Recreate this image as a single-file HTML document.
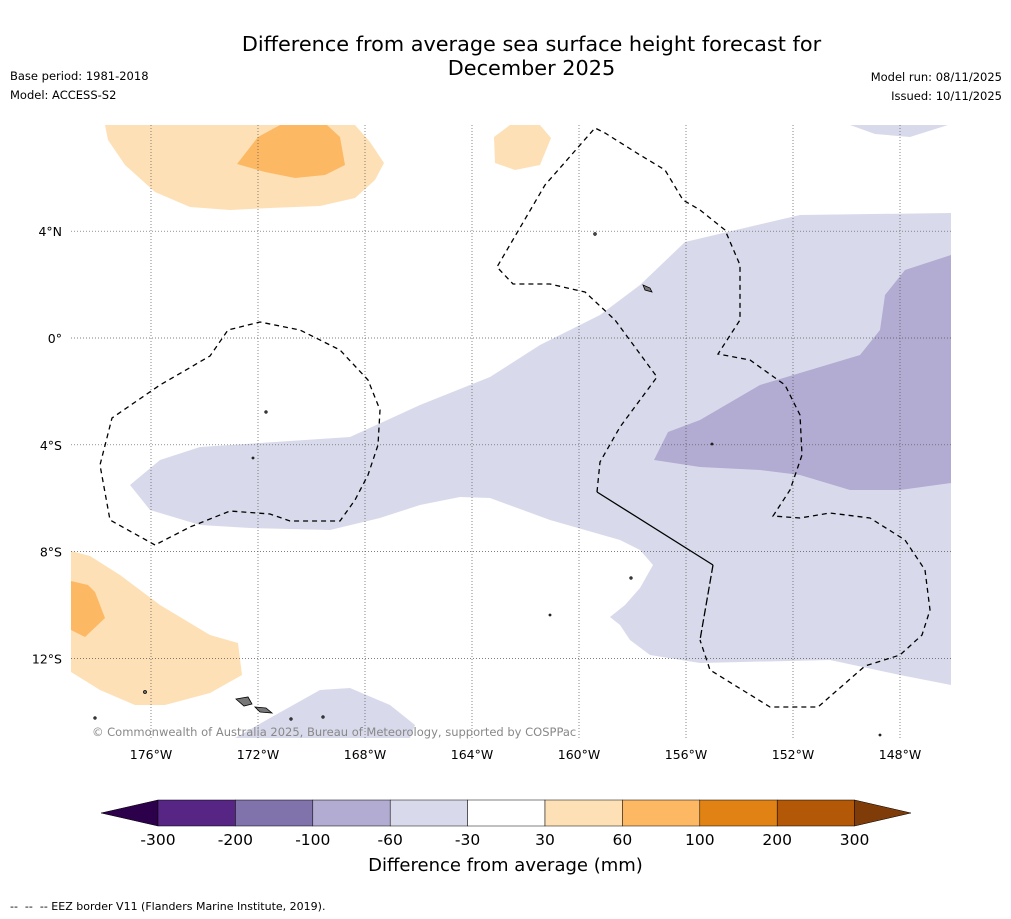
<!DOCTYPE html>
<html><head><meta charset="utf-8">
<style>
body{margin:0;background:#fff;font-family:"DejaVu Sans","Liberation Sans",sans-serif;}
#wrap{position:relative;width:1011px;height:919px;overflow:hidden;background:#fff}
.t{position:absolute;color:#000;white-space:nowrap}
</style></head><body>
<div id="wrap">
<div class="t" style="left:0;width:1063px;text-align:center;top:32px;font-size:20.8px;line-height:24px">Difference from average sea surface height forecast for<br>December 2025</div>
<div class="t" style="left:10px;top:69px;font-size:11.5px">Base period: 1981-2018</div>
<div class="t" style="left:10px;top:88px;font-size:11.5px">Model: ACCESS-S2</div>
<div class="t" style="right:9px;top:70px;font-size:11.5px">Model run: 08/11/2025</div>
<div class="t" style="right:9px;top:89px;font-size:11.5px">Issued: 10/11/2025</div>
<svg id="map" width="1011" height="919" style="position:absolute;left:0;top:0">
<defs><clipPath id="mc"><rect x="71" y="125" width="880" height="613"/></clipPath></defs>
<g clip-path="url(#mc)">
<path fill="#d8daeb" d="M130,485 L160,460 200,447 260,443 350,437 420,405 490,377 540,345 600,315 640,285 685,242 800,215 951,213 951,685 900,675 830,660 700,663 650,655 630,640 620,625 610,617 625,605 640,588 653,565 640,550 620,540 550,520 490,498 460,497 420,505 380,518 330,530 250,528 200,525 150,510 Z"/>
<path fill="#d8daeb" d="M235,738 L270,718 320,690 350,688 390,705 415,725 410,738 Z"/>
<path fill="#d8daeb" d="M850,125 L875,134 910,137 948,125 Z"/>
<path fill="#b2abd2" d="M668,432 L700,420 760,385 860,355 880,330 885,295 905,270 951,255 951,483 900,490 850,490 800,475 760,470 700,467 654,460 Z"/>
<path fill="#fee0b6" d="M105,125 L108,140 125,165 155,192 190,207 230,210 270,208 320,206 355,198 375,180 384,163 370,142 355,125 Z"/>
<path fill="#fdb863" d="M237,164 L258,137 280,125 327,125 340,137 345,165 325,175 295,178 265,172 Z"/>
<path fill="#fee0b6" d="M494,137 L510,125 540,125 551,138 540,165 515,170 495,163 Z"/>
<path fill="#fee0b6" d="M71,551 L90,556 120,575 160,605 210,635 238,643 242,675 210,693 165,705 135,705 100,690 71,672 Z"/>
<path fill="#fdb863" d="M71,581 L88,585 95,592 105,618 85,637 71,630 Z"/>
</g>
<g id="grid"></g>
<g fill="none" stroke="#000" stroke-width="1.3">
<path stroke-dasharray="5,4" d="M155,545 L110,520 100,465 112,418 160,385 210,356 228,330 260,322 300,330 340,350 368,380 380,410 378,445 368,475 355,500 340,521 290,521 270,514 230,511 190,527 155,545"/>
<path stroke-dasharray="5,4" d="M597,492 L600,462 620,427 640,400 657,377 615,320 585,292 550,284 513,284 497,267 545,185 595,128 605,133 640,155 665,170 683,200 700,210 725,230 740,265 740,320 718,354 750,360 785,385 800,415 802,455 790,490 773,516 800,518 830,513 870,518 905,540 925,570 930,610 922,635 900,655 865,666 818,707 770,707 710,670 700,640"/>
<path d="M597,492 L713,565"/>
<path stroke-dasharray="8,3" d="M713,565 L700,640"/>
</g>
<g fill="#777" stroke="#000" stroke-width="0.8">
<path d="M236,699 L248,697 252,704 244,706 Z"/><path d="M255,707 L266,708 272,713 260,712 Z"/>
<path d="M643,285 L650,288 652,292 645,290 Z"/>
<circle cx="145" cy="692" r="1.5"/><circle cx="266" cy="412" r="1.2"/><circle cx="253" cy="458" r="1"/><circle cx="595" cy="234" r="1.3"/><circle cx="631" cy="578" r="1.2"/><circle cx="550" cy="615" r="1"/><circle cx="712" cy="444" r="1"/><circle cx="291" cy="719" r="1.2"/><circle cx="323" cy="717" r="1.2"/><circle cx="95" cy="718" r="1.2"/><circle cx="880" cy="735" r="1"/>
</g>
</svg>
<div class="t" style="left:92px;top:725px;font-size:11.5px;color:#888">© Commonwealth of Australia 2025, Bureau of Meteorology, supported by COSPPac</div>
<svg id="cbar" width="1011" height="919" style="position:absolute;left:0;top:0"></svg>
<div class="t" style="left:0;width:1011px;text-align:center;top:855px;font-size:18px">Difference from average (mm)</div>
<div class="t" style="left:10px;top:900px;font-size:11px">--&nbsp; --&nbsp; -- EEZ border V11 (Flanders Marine Institute, 2019).</div>
</div>
<script>
const lonTicks=[-176,-172,-168,-164,-160,-156,-152,-148];
const latTicks=[4,0,-4,-8,-12];
const cbBounds=[-300,-200,-100,-60,-30,30,60,100,200,300];
const cbColors=["#572584","#8073ac","#b2abd2","#d8daeb","#ffffff","#fee0b6","#fdb863","#e08214","#b35806"];
const cbLow="#2d004b", cbHigh="#7f3b08";
const NS="http://www.w3.org/2000/svg";
const FF='DejaVu Sans, Liberation Sans, sans-serif';
const xLon=l=>151+(l+176)*26.75;
const yLat=l=>338-l*26.7;
function mk(p,tag,a){const e=document.createElementNS(NS,tag);for(const k in a)e.setAttribute(k,a[k]);p.appendChild(e);return e;}
const g=document.getElementById('grid');
lonTicks.forEach(l=>{const x=xLon(l);
 const ln=mk(g,'line',{x1:x,x2:x,y1:125,y2:738,stroke:'#555','stroke-width':0.7,'stroke-dasharray':'1,2'});
 
 
 const t=mk(g,'text',{x:x,y:759,'text-anchor':'middle','font-size':12.5,'font-family':FF});
 t.textContent=Math.abs(l)+'°W';
 
 });
latTicks.forEach(l=>{const y=yLat(l);
 const ln=mk(g,'line',{x1:71,x2:951,y1:y,y2:y,stroke:'#555','stroke-width':0.7,'stroke-dasharray':'1,2'});
 
 
 const t=mk(g,'text',{x:62,y:y+5,'text-anchor':'end','font-size':12.5,'font-family':FF});
 t.textContent=l===0?'0°':Math.abs(l)+'°'+(l>0?'N':'S');
 
 });
const cb=document.getElementById('cbar');
const x0=158,seg=77.4,y0=800,h=26;
mk(cb,'path',{d:`M${x0},${y0} L101,${y0+h/2} L${x0},${y0+h} Z`,fill:cbLow,stroke:'#000','stroke-width':0.5});
cbColors.forEach((c,i)=>{const r=mk(cb,'rect',{x:x0+i*seg,y:y0,width:seg,height:h,fill:c,stroke:'#000','stroke-width':0.5});
 
 });
const xe=x0+cbColors.length*seg;
mk(cb,'path',{d:`M${xe},${y0} L911,${y0+h/2} L${xe},${y0+h} Z`,fill:cbHigh,stroke:'#000','stroke-width':0.5});
cbBounds.forEach((b,i)=>{const t=mk(cb,'text',{x:x0+i*seg,y:845,'text-anchor':'middle','font-size':15.5,'font-family':FF});
 t.textContent=b;
 
 });
</script>
</body></html>
